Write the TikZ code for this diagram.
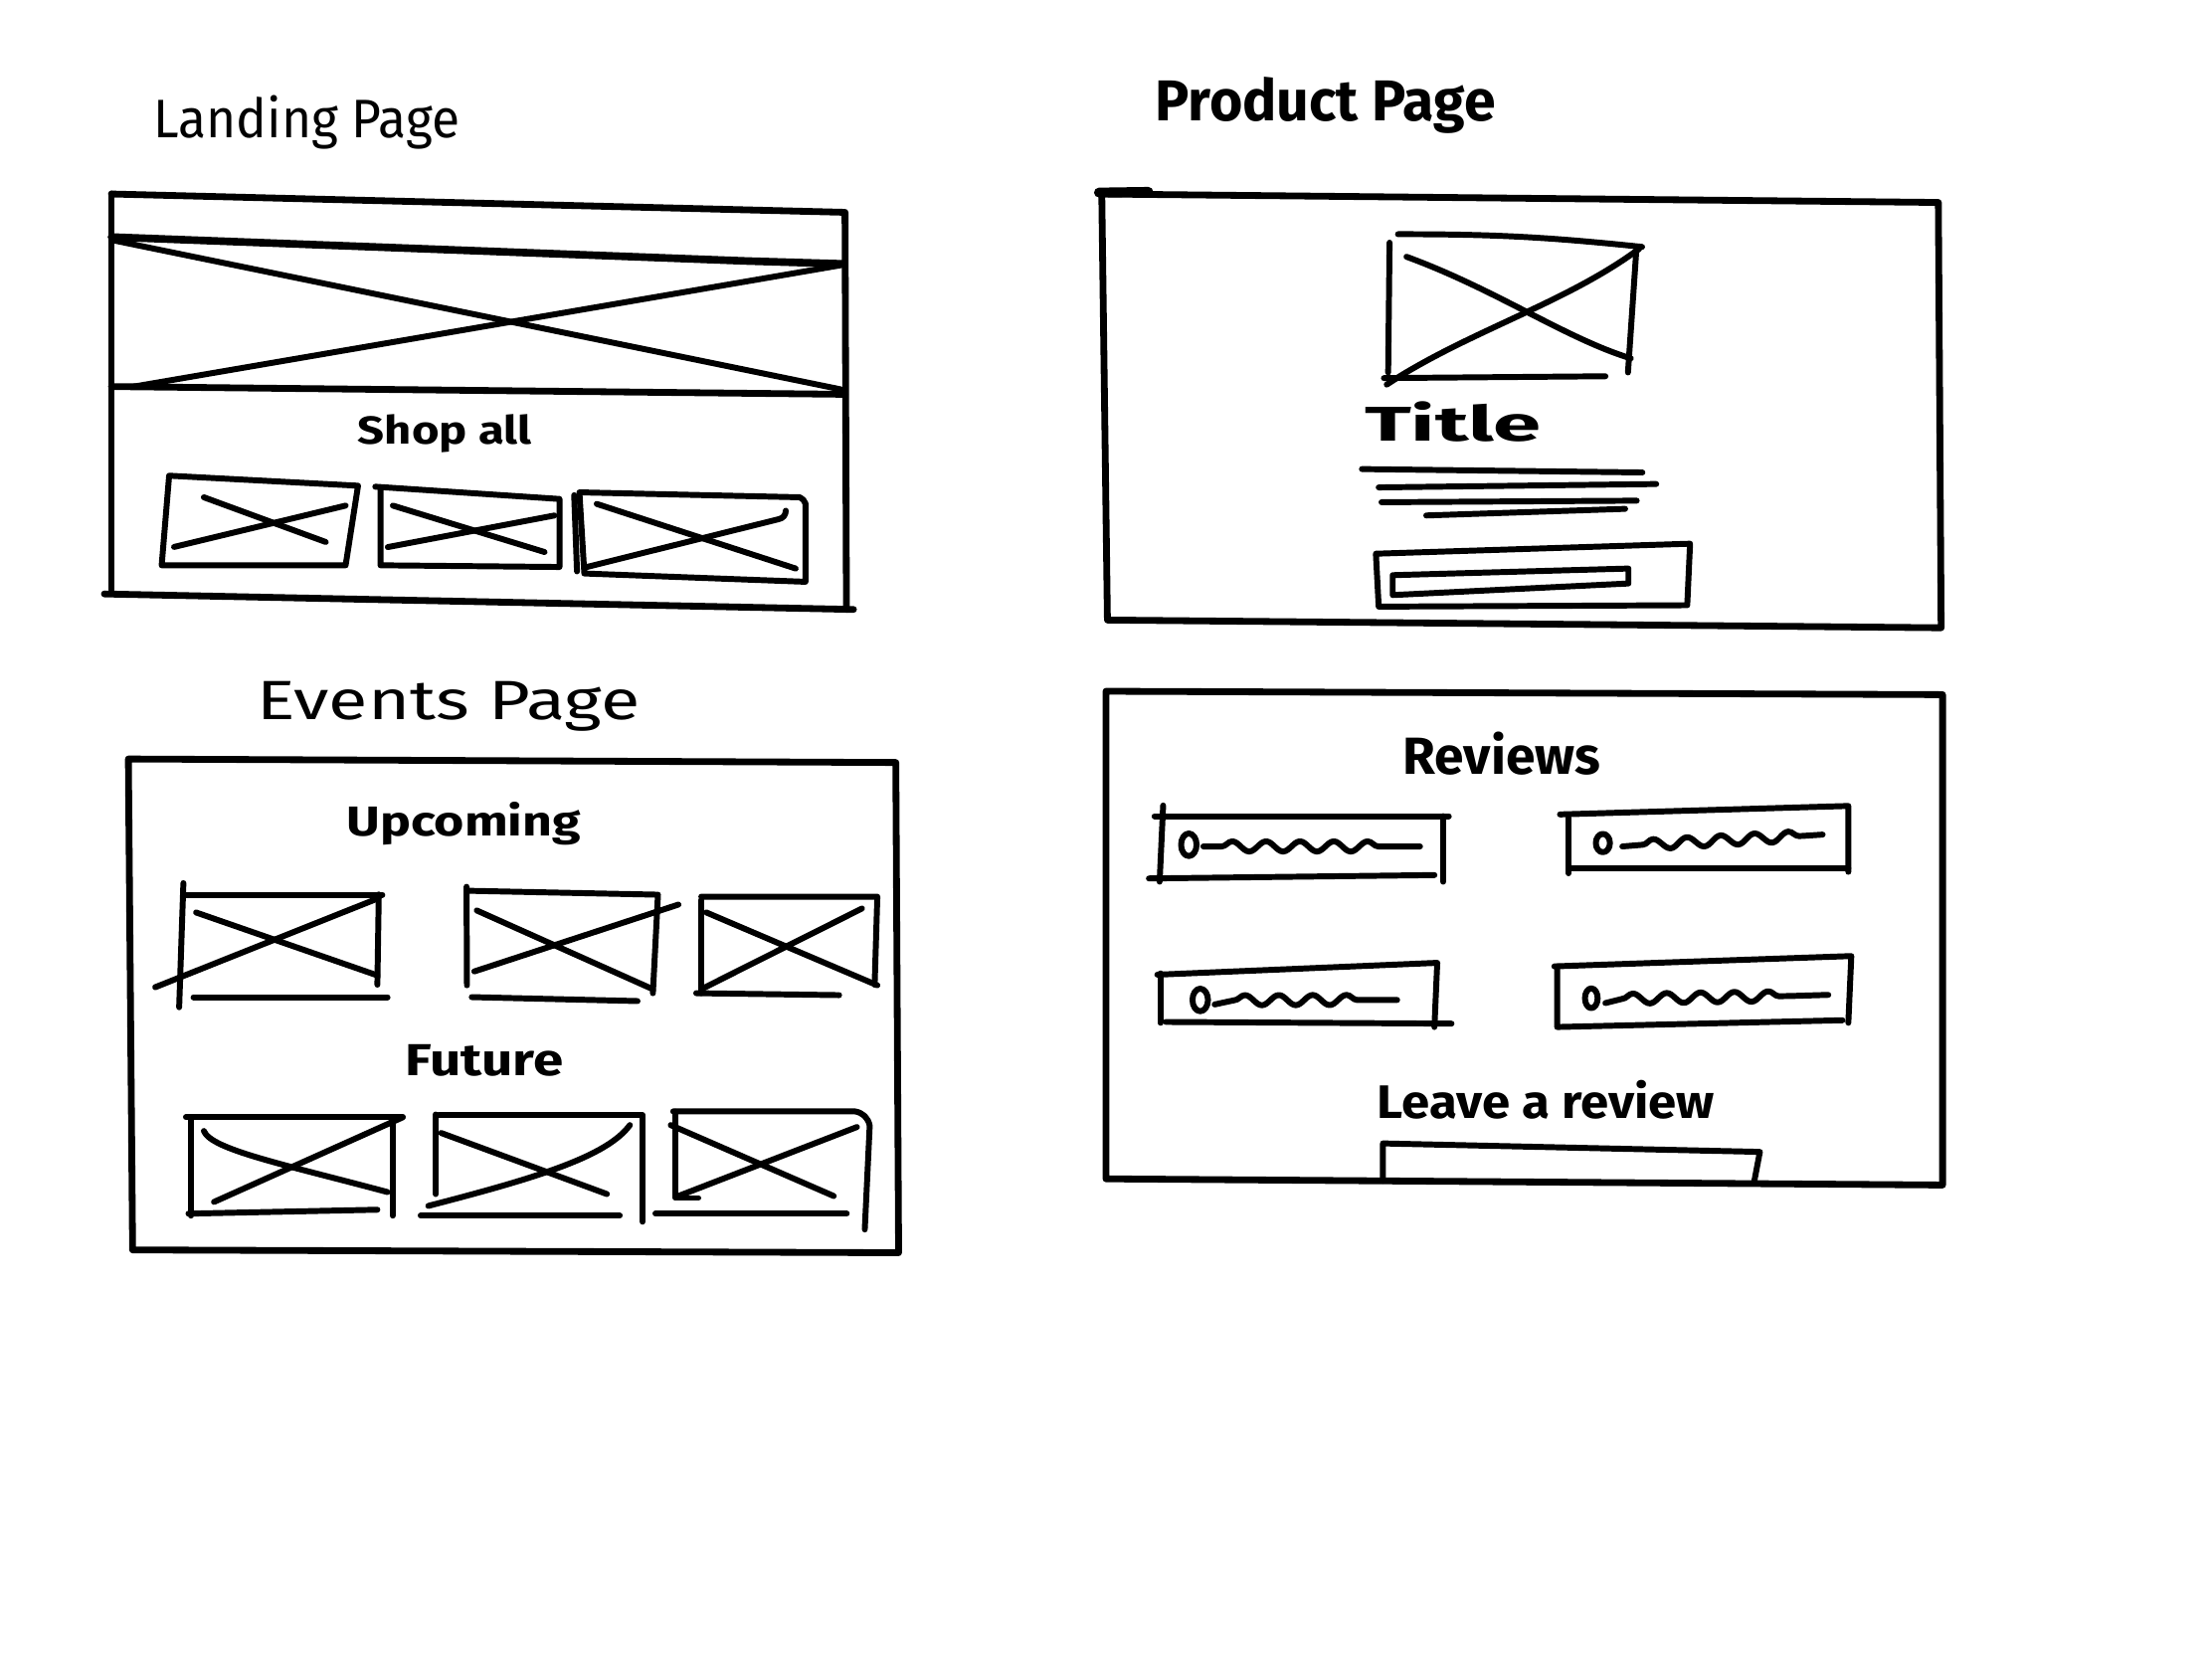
\documentclass[tikz,border=0pt]{standalone}
\usepackage{fontspec}
\usepackage{graphicx}
\setmainfont{Fira Sans}
\usetikzlibrary{decorations.pathmorphing}
% hand-lettered label: fixed width and cap height
\newcommand{\handlabel}[3]{\resizebox{#1pt}{#2pt}{#3}}
\tikzset{
  pen/.style={line width=4.2pt, line cap=round, line join=round},
  frame/.style={line width=4.8pt, line cap=round, line join=round},
  thick pen/.style={line width=5.4pt, line cap=round, line join=round},
  label/.style={anchor=base west, inner sep=0pt, outer sep=0pt, font=\bfseries},
  squiggle/.style={decoration={snake, segment length=24pt, amplitude=3.6pt}},
}
\begin{document}
\begin{tikzpicture}[x=1pt, y=-1pt]
\useasboundingbox[fill=white] (0,0) rectangle (1568,1176);

% ---------------- Landing page ----------------
\node[label, font=\mdseries] (landingtitle) at (109,97.4) {\handlabel{217}{30}{Landing Page}};
\draw[frame] (79,137.5) -- (599,150.5) -- (600,432);
\draw[frame] (79,137.5) -- (79,418);
\draw[frame] (74,421) -- (605,432);
% hero image
\draw[thick pen] (79,168) -- (529,185) -- (597,187);
\draw[frame] (79,274) -- (599,279.5);
\draw[pen] (81,170.5) -- (596,276);
\draw[pen] (95,274) -- (596,188);
\node[label] (shopall) at (253.8,315) {\handlabel{123}{21}{Shop all}};
% product thumbnails
\draw[pen] (119.9,337.2) -- (253.8,344.3) -- (245,400.7) -- (114.6,400.7) -- cycle;
\draw[pen] (144.5,352.5) -- (230.9,384.2);
\draw[pen] (123.4,387.7) -- (245,358.4);
\draw[pen] (266,345) -- (396.6,353.7) -- (396.6,401.9) -- (269.7,400.7) -- (269.7,347);
\draw[pen] (278.5,358.4) -- (386,391.3);
\draw[pen] (274.9,387.8) -- (393,365.4);
\draw[pen] (410.7,349) -- (567,352.5) to[bend left=20] (571,357) -- (571,412.4) -- (414.2,406.5) -- cycle;
\draw[pen] (407,351) -- (409,405);
\draw[pen] (423,357.2) -- (564,403);
\draw[pen] (416,401.9) -- (552,368) to[bend right=40] (557,362);

% ---------------- Product page ----------------
\node[label] (producttitle) at (819,86) {\handlabel{241}{31}{Product Page}};
\draw[frame] (781,137.5) -- (1374,143.5) -- (1376,445) -- (785,439.5) -- cycle;
\draw[line width=7pt, line cap=round] (779,136.5) -- (814,136);
% product image
\draw[pen] (991,166) to[bend left=3] (1164,175);
\draw[pen] (985,172) -- (984,264);
\draw[pen] (1160,176) -- (1154,264);
\draw[pen] (981,268) -- (1138,266.7);
\draw[pen] (997,182) .. controls (1060,205) and (1110,240) .. (1156,254);
\draw[pen] (983,272.6) .. controls (1040,235) and (1110,215) .. (1162,176.3);
\node[label] (titlelabel) at (967.3,312.6) {\handlabel{125}{28}{Title}};
% description lines
\draw[pen] (965.4,332.5) -- (1164.2,334.9);
\draw[pen] (977.3,345.5) -- (1174,343.1);
\draw[pen] (979.3,356) -- (1160.2,354.9);
\draw[pen] (1011,365.4) -- (1152,360.7);
% add-to-cart button
\draw[pen] (975.3,392.5) -- (1198,385.4) -- (1196,429) -- (977.3,430) -- cycle;
\draw[pen] (987.2,407.7) -- (1154.3,403) -- (1154.3,413.6) -- (987.2,421.8) -- cycle;

% ---------------- Events page ----------------
\node[label, font=\mdseries] (eventstitle) at (182.4,510) {\handlabel{271}{27}{Events Page}};
\draw[frame] (91,538) -- (635,540.5) -- (637,888) -- (94,886) -- cycle;
\node[label] (upcoming) at (245.7,592.3) {\handlabel{166}{24}{Upcoming}};
% upcoming cards
\draw[pen] (131.8,634.2) -- (271,634.2);
\draw[pen] (130,626) -- (127,714);
\draw[pen] (268.5,634) -- (267.5,698);
\draw[pen] (139,646.8) -- (267.5,691.4);
\draw[pen] (110,699.8) -- (267.5,637);
\draw[pen] (137.2,706.8) -- (274.7,706.8);
\draw[pen] (330.7,631.4) -- (466.4,634.2) -- (462.8,704);
\draw[pen] (330.7,628.6) -- (331,698.4);
\draw[pen] (338,645.4) -- (462.8,701.2);
\draw[pen] (336.2,688.6) -- (480.9,641.2);
\draw[pen] (334.4,706.8) -- (451.9,709.6);
\draw[pen] (497.1,635.6) -- (621.9,635.6) -- (620,698);
\draw[pen] (497.1,638) -- (497.1,704);
\draw[pen] (500.7,646.8) -- (621.9,698.4);
\draw[pen] (497.1,701.2) -- (611,644);
\draw[pen] (493.5,704) -- (594.8,705.4);
\node[label] (future) at (287.3,762.6) {\handlabel{112}{22}{Future}};
% future cards
\draw[pen] (131.8,791.9) -- (285.5,791.9);
\draw[pen] (135.4,792) -- (135.4,861.7);
\draw[pen] (278.3,792) -- (278.3,861.7);
\draw[pen] (144.5,801.7) .. controls (150,815) and (200,825) .. (274.7,845);
\draw[pen] (151.7,852) -- (285.5,792);
\draw[pen] (133.6,860.3) -- (267.5,857.5);
\draw[pen] (310.9,790.5) -- (455.5,790.5) -- (455.5,866);
\draw[pen] (309,790) -- (309,846.4);
\draw[pen] (312.7,803.1) -- (430.2,846.4);
\draw[pen] (303.6,854.8) .. controls (380,835) and (430,820) .. (446.5,797.5);
\draw[pen] (298.2,861.7) -- (439.3,861.7);
\draw[pen] (477.2,787.8) -- (606,787.8) to[bend left=35] (616.5,798) -- (613,871.5);
\draw[pen] (479,788) -- (479,849.2) -- (495,849.2);
\draw[pen] (475.4,797.5) -- (591,847.8);
\draw[pen] (480.9,847.8) -- (607.4,798.9);
\draw[pen] (464.6,860.3) -- (600.2,860.3);

% ---------------- Reviews section ----------------
\draw[frame] (784,490) -- (1377,492.4) -- (1377,840) -- (784,835.6) -- cycle;
\node[label] (reviews) at (994.5,548.6) {\handlabel{140}{30}{Reviews}};
% review cards
\draw[pen] (818.4,578.5) -- (1027,578.5);
\draw[pen] (824.5,571) -- (822,625);
\draw[pen] (1023,578.5) -- (1023,625);
\draw[pen] (814.4,622.7) -- (1016.8,620.3);
\draw[pen] (842.7,598.8) ellipse (5.5pt and 8pt);
\draw[pen] (853,600) -- (866,600) decorate[squiggle] {-- (986,600)} -- (1006.6,600);
\draw[pen] (1105.8,577.3) -- (1310.2,571.3) -- (1310.2,618);
\draw[pen] (1111.9,579.7) -- (1111.9,619);
\draw[pen] (1111.9,615.5) -- (1310.2,615.5);
\draw[pen] (1136.2,597.6) ellipse (5pt and 6.5pt);
\draw[pen] (1150,600) -- (1164.5,598.8) decorate[squiggle] {-- (1280,592.4)} -- (1292,591.6);
\draw[pen] (820.4,690.9) -- (1018.8,682.5) -- (1016.8,728);
\draw[pen] (822.5,690) -- (822.5,725);
\draw[pen] (826.5,724.4) -- (1028.9,725.6);
\draw[pen] (850.8,708.8) ellipse (5.5pt and 8pt);
\draw[pen] (861,712) -- (875,709) decorate[squiggle] {-- (971,708.8)} -- (990.4,708.8);
\draw[pen] (1101.8,685) -- (1312.3,677.7) -- (1310.2,725);
\draw[pen] (1103.8,685) -- (1103.8,728) -- (1306,723.2);
\draw[pen] (1128,707.6) ellipse (4.5pt and 7pt);
\draw[pen] (1138,711) -- (1150,708) decorate[squiggle] {-- (1270,706)} -- (1296,705.2);
\node[label] (leavereview) at (976.3,792.6) {\handlabel{239}{27}{Leave a review}};
% review input
\draw[pen] (980.3,837) -- (980.3,810.5) -- (1247.5,816.5) -- (1243.4,838);
\end{tikzpicture}
\end{document}
